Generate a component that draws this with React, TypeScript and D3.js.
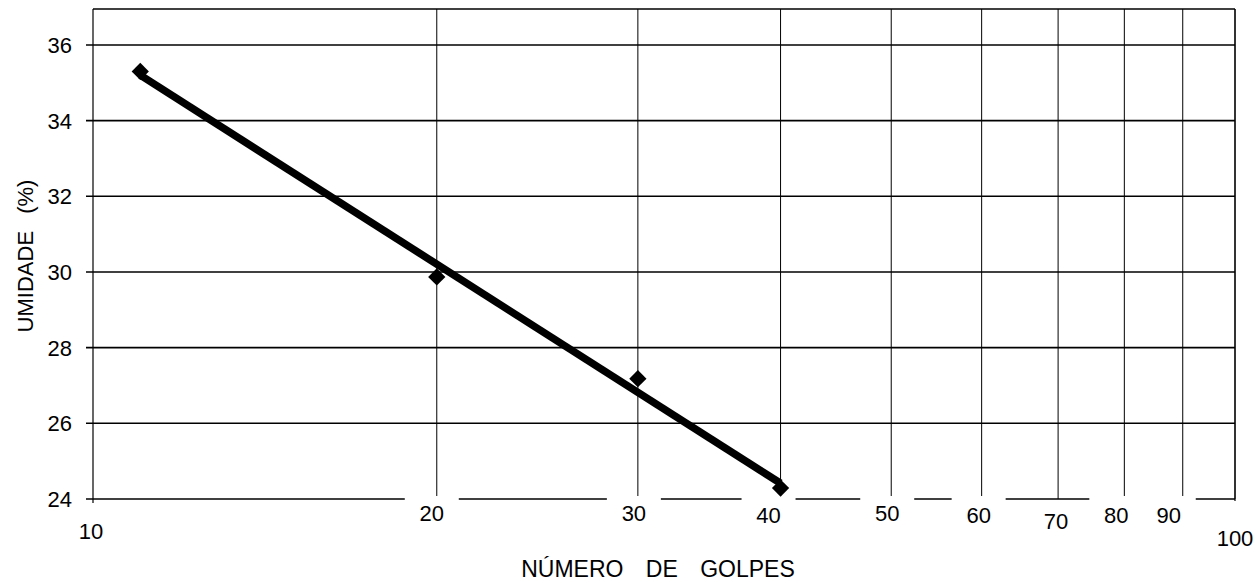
import * as d3 from 'd3'
import * as React from 'react'

// Ensaio de limite de liquidez: umidade x número de golpes (escala log)
const golpes = [11, 20, 30, 40]
const umidade = [35.3, 29.87, 27.18, 24.29]

const yTicks = [24, 26, 28, 30, 32, 34, 36]
const xTicks = [10, 20, 30, 40, 50, 60, 70, 80, 90, 100]

const W = 1257
const H = 583
const plot = { left: 93, right: 1235, top: 9, bottom: 499 }

// the scanned labels are not evenly placed; small nudges [dx, baseline]
const labelNudge: { [k: number]: [number, number] } = {
  10: [-2, 539], 20: [-5, 521], 30: [-4, 521], 40: [-12, 523], 50: [-4, 521],
  60: [-3, 523], 70: [-2, 529], 80: [-8, 523], 90: [-14, 523], 100: [0, 546],
}
// tick labels that knock a hole in the bottom axis line
const gapTicks = [20, 30, 40, 50, 60, 80, 90]

export default function App() {
  const x = d3.scaleLog().domain([10, 100]).range([plot.left, plot.right])
  const y = d3.scaleLinear().domain([24, 36.95]).range([plot.bottom, plot.top])

  // least squares on log10(golpes)
  const lx = golpes.map(g => Math.log10(g))
  const mx = d3.mean(lx)!
  const my = d3.mean(umidade)!
  const sxy = d3.sum(lx, (v, i) => (v - mx) * (umidade[i] - my))
  const sxx = d3.sum(lx, v => (v - mx) * (v - mx))
  const b = sxy / sxx
  const a = my - b * mx
  const ext = d3.extent(golpes) as [number, number]
  const trend: [number, number][] = ext.map(g => [x(g), y(a + b * Math.log10(g))])
  const line = d3.line()

  const diamond = d3.symbol().type(d3.symbolDiamond2 ?? d3.symbolDiamond).size(190)
  const font = '"Liberation Sans", Arial, sans-serif'

  return (
    <svg width={W} height={H} style={{ position: 'absolute', left: 0, top: 0, background: '#fff' }}
      fontFamily={font}>
      {/* vertical grid */}
      {xTicks.slice(1).map(t => (
        <line key={'v' + t} x1={x(t)} x2={x(t)} y1={plot.top} y2={plot.bottom}
          stroke="#000" strokeWidth={1} />
      ))}
      {/* horizontal grid + ticks */}
      {yTicks.map(t => (
        <line key={'h' + t} x1={plot.left - 7} x2={plot.right} y1={y(t)} y2={y(t)}
          stroke="#000" strokeWidth={1.6} />
      ))}
      {/* frame */}
      <line x1={plot.left} x2={plot.right} y1={plot.top} y2={plot.top} stroke="#000" strokeWidth={1.6} />
      <line x1={plot.left} x2={plot.left} y1={plot.top} y2={plot.bottom + 4} stroke="#000" strokeWidth={1.2} />
      <line x1={plot.right} x2={plot.right} y1={plot.top} y2={plot.bottom + 2} stroke="#000" strokeWidth={1.2} />

      {/* holes in the bottom axis around labels */}
      {gapTicks.map(t => {
        const cx = x(t) + labelNudge[t][0]
        return <rect key={'g' + t} x={cx - 27} y={plot.bottom - 3} width={54} height={6} fill="#fff" />
      })}

      {/* y labels */}
      {yTicks.map(t => (
        <text key={'yl' + t} x={72} y={y(t)} dy="0.36em" textAnchor="end" fontSize={22}>{t}</text>
      ))}
      {/* x labels */}
      {xTicks.map(t => (
        <text key={'xl' + t} x={x(t) + labelNudge[t][0]} y={labelNudge[t][1]} textAnchor="middle"
          fontSize={22}>{t}</text>
      ))}

      {/* trend line */}
      <path d={line(trend)!} fill="none" stroke="#000" strokeWidth={7.5} strokeLinecap="butt" />
      {/* points */}
      {golpes.map((g, i) => (
        <path key={'p' + i} d={diamond()!} transform={`translate(${x(g)},${y(umidade[i])})`} fill="#000" />
      ))}

      {/* axis titles */}
      <text x={658} y={577} textAnchor="middle" fontSize={23} style={{ wordSpacing: '16px' }}>
        NÚMERO DE GOLPES
      </text>
      <text transform="translate(33,256) rotate(-90)" textAnchor="middle" fontSize={22}
        style={{ wordSpacing: '11px' }}>
        UMIDADE (%)
      </text>
    </svg>
  )
}
